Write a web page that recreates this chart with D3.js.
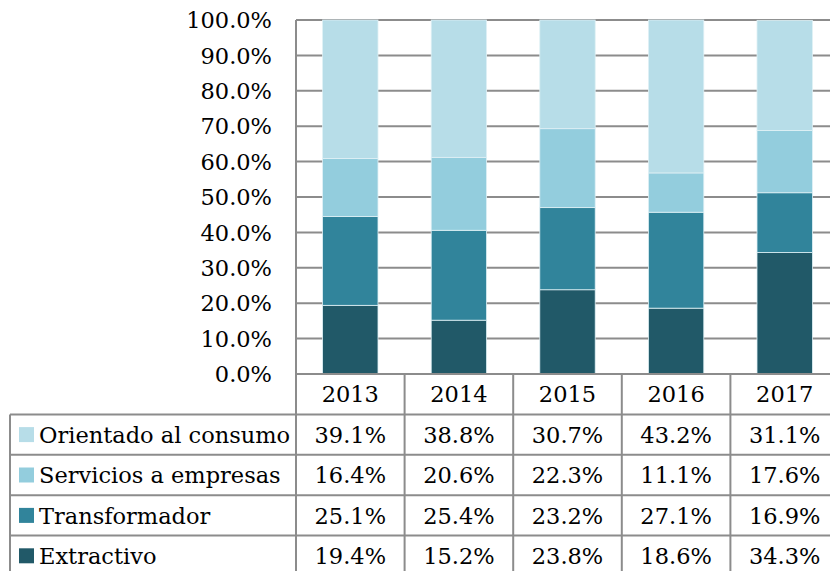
<!DOCTYPE html>
<html>
<head>
<meta charset="utf-8">
<script src="https://d3js.org/d3.v7.min.js"></script>
<style>
  body { margin: 0; background: #fff; }
  text { font-family: "DejaVu Serif", serif; fill: #000; }
</style>
</head>
<body>
<div id="chart"></div>
<script>
// data
const years = ["2013", "2014", "2015", "2016", "2017"];
const series = ["Orientado al consumo", "Servicios a empresas", "Transformador", "Extractivo"];
const orientado = [39.1, 38.8, 30.7, 43.2, 31.1];
const servicios = [16.4, 20.6, 22.3, 11.1, 17.6];
const transformador = [25.1, 25.4, 23.2, 27.1, 16.9];
const extractivo = [19.4, 15.2, 23.8, 18.6, 34.3];
const yTicks = [0, 10, 20, 30, 40, 50, 60, 70, 80, 90, 100];

const colors = {
  "Orientado al consumo": "#b7dde8",
  "Servicios a empresas": "#93cddd",
  "Transformador": "#31849b",
  "Extractivo": "#215968"
};

const W = 830, H = 571;
const fs = "22.5px";
const svg = d3.select("#chart").append("svg")
  .attr("width", W).attr("height", H);

const plotLeft = 296, plotRight = 839, plotTop = 20, plotBottom = 374;
const tableLeft = 10, rowH = 40.4;
const gridColor = "#8c8c8c";

const x = d3.scaleBand().domain(years).range([plotLeft, plotRight]);
const y = d3.scaleLinear().domain([0, 100]).range([plotBottom, plotTop]);

// table rows, stacked bottom-up
const values = {
  "Orientado al consumo": orientado,
  "Servicios a empresas": servicios,
  "Transformador": transformador,
  "Extractivo": extractivo
};
const rows = years.map((yr, i) => {
  const r = { year: yr };
  series.forEach(s => r[s] = values[s][i]);
  return r;
});
const stack = d3.stack().keys(series.slice().reverse());
const stacked = stack(rows);

// gridlines
svg.append("g")
  .selectAll("line")
  .data(yTicks)
  .join("line")
  .attr("x1", plotLeft).attr("x2", W)
  .attr("y1", d => y(d)).attr("y2", d => y(d))
  .attr("stroke", gridColor).attr("stroke-width", 2);

// y axis labels
svg.append("g")
  .selectAll("text")
  .data(yTicks)
  .join("text")
  .attr("x", 272)
  .attr("y", d => y(d))
  .attr("dy", "0.36em")
  .attr("text-anchor", "end")
  .style("font-size", fs)
  .text(d => d.toFixed(1) + "%");

// bars
const bw = x.bandwidth() * 0.51;
svg.append("g")
  .selectAll("g")
  .data(stacked)
  .join("g")
  .attr("fill", d => colors[d.key])
  .selectAll("rect")
  .data(d => d)
  .join("rect")
  .attr("x", d => x(d.data.year) + (x.bandwidth() - bw) / 2)
  .attr("width", bw)
  .attr("y", d => y(d[1]))
  .attr("height", d => y(d[0]) - y(d[1]))
  .attr("stroke", "#dff0f5")
  .attr("stroke-width", 0.8);

// redraw bottom line over bars
svg.append("line")
  .attr("x1", plotLeft).attr("x2", W)
  .attr("y1", plotBottom).attr("y2", plotBottom)
  .attr("stroke", gridColor).attr("stroke-width", 2);

// table
const tbl = svg.append("g");
const tableBottom = plotBottom + rowH * 5;

// vertical lines
x.domain().forEach(yr => {
  tbl.append("line")
    .attr("x1", x(yr)).attr("x2", x(yr))
    .attr("y1", yr === years[0] ? plotTop : plotBottom)
    .attr("y2", tableBottom)
    .attr("stroke", gridColor).attr("stroke-width", 2);
});
tbl.append("line")
  .attr("x1", tableLeft).attr("x2", tableLeft)
  .attr("y1", plotBottom + rowH).attr("y2", tableBottom)
  .attr("stroke", gridColor).attr("stroke-width", 2);

// horizontal lines
d3.range(1, 6).forEach(i => {
  tbl.append("line")
    .attr("x1", tableLeft).attr("x2", W)
    .attr("y1", plotBottom + rowH * i).attr("y2", plotBottom + rowH * i)
    .attr("stroke", gridColor).attr("stroke-width", 2);
});

// header years
tbl.selectAll("text.yr")
  .data(years)
  .join("text")
  .attr("class", "yr")
  .attr("x", d => x(d) + x.bandwidth() / 2)
  .attr("y", plotBottom + rowH / 2)
  .attr("dy", "0.36em")
  .attr("text-anchor", "middle")
  .style("font-size", fs)
  .text(d => d);

// rows
series.forEach((s, i) => {
  const cy = plotBottom + rowH * (i + 1) + rowH / 2;
  tbl.append("rect")
    .attr("x", 19).attr("y", cy - 7.5)
    .attr("width", 15).attr("height", 15)
    .attr("fill", colors[s]);
  tbl.append("text")
    .attr("x", 39).attr("y", cy)
    .attr("dy", "0.36em")
    .style("font-size", fs)
    .text(s);
  tbl.selectAll("text.v" + i)
    .data(values[s])
    .join("text")
    .attr("class", "v" + i)
    .attr("x", (d, j) => x(years[j]) + x.bandwidth() / 2)
    .attr("y", cy)
    .attr("dy", "0.36em")
    .attr("text-anchor", "middle")
    .style("font-size", fs)
    .text(d => d.toFixed(1) + "%");
});
</script>
</body>
</html>
